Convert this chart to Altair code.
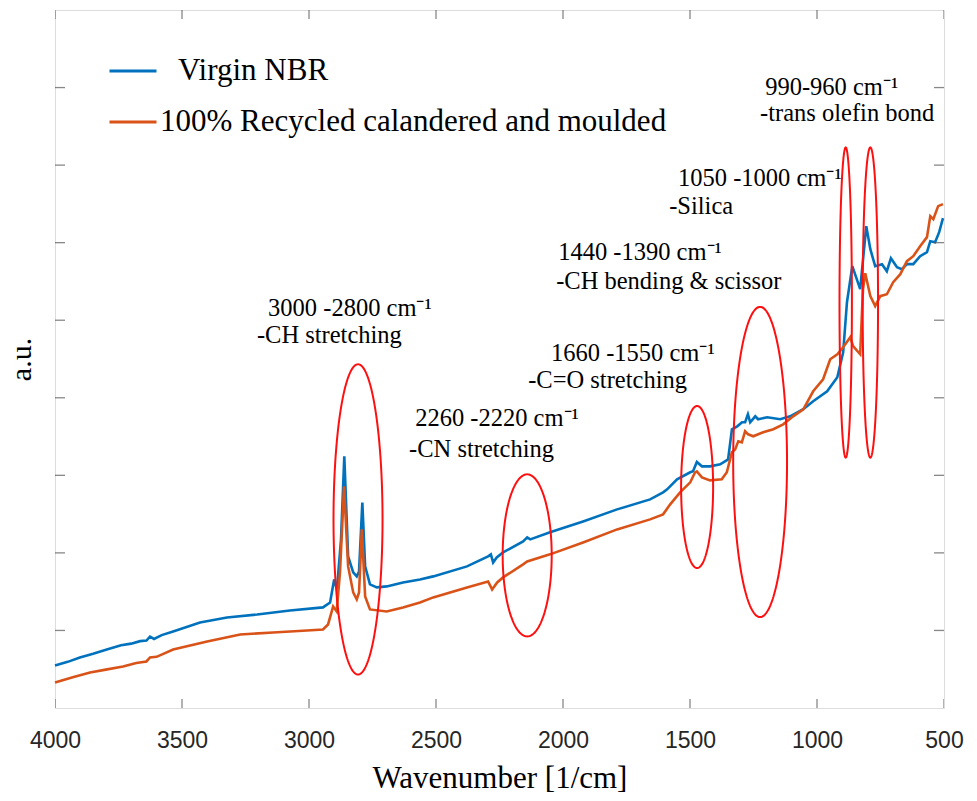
import altair as alt
import pandas as pd
import numpy as np

# ---------------- data ----------------
series_names = ["Virgin NBR", "100% Recycled calandered and moulded"]
series_colors = ["#0072BD", "#D95319"]

virgin_wn = [4000, 3950, 3902, 3850, 3796, 3740, 3700, 3665, 3640, 3626,
             3610, 3580, 3535, 3429, 3323, 3204, 3075,
             2945, 2917, 2901, 2890, 2874, 2861, 2846, 2826, 2812, 2803,
             2790, 2779, 2760, 2733, 2694, 2630, 2563, 2511, 2378, 2295,
             2284, 2275, 2261, 2236, 2157, 2141, 2129, 2051, 1921, 1787,
             1657, 1606, 1590, 1551, 1499, 1488, 1473, 1453, 1421, 1381,
             1350, 1335, 1314, 1295, 1283, 1272, 1263, 1243, 1232, 1196,
             1145, 1106, 1054, 1015, 960, 920, 897, 882, 861, 830,
             806, 790, 771, 744, 725, 709, 685, 666, 646, 621,
             594, 567, 554, 535, 519, 504]
virgin_y = [5.48, 5.95, 6.52, 7.0, 7.55, 8.1, 8.3, 8.62, 8.7, 9.2,
            8.9, 9.4, 9.87, 11.03, 11.68, 12.06, 12.58,
            12.97, 13.61, 16.58, 15.29, 21.7, 32.45, 19.55, 17.48, 16.97, 17.61,
            26.5, 18.26, 15.94, 15.55, 15.68, 16.19, 16.58, 16.97, 18.26, 19.55,
            19.81, 18.77, 19.42, 20.06, 21.48, 22.0, 21.74, 22.65, 24.06, 25.61,
            26.9, 27.81, 28.19, 29.48, 30.39, 30.52, 31.72, 31.16, 31.16, 31.42,
            32.06, 35.94, 36.32, 36.84, 36.84, 37.87, 36.84, 37.61, 37.23, 37.48,
            37.23, 37.61, 38.52, 39.55, 40.84, 42.65, 45.87, 52.32, 56.97, 54.0,
            62.13, 59.16, 56.97, 57.23, 56.32, 58.0, 56.84, 56.58, 57.23, 57.23,
            58.26, 58.77, 60.19, 60.06, 61.35, 63.16]

recycled_wn = [4000, 3930, 3862, 3800, 3732, 3680, 3640, 3626, 3600, 3535,
               3401, 3271, 3141, 3008, 2945,
               2925, 2905, 2891, 2878, 2862, 2846, 2826, 2812, 2803, 2792,
               2779, 2760, 2694, 2630, 2563, 2511, 2378, 2295, 2279, 2259,
               2236, 2157, 2141, 2051, 1921, 1787, 1657, 1606, 1578, 1539,
               1499, 1480, 1473, 1453, 1421, 1375, 1355, 1335, 1322, 1310,
               1296, 1283, 1271, 1251, 1212, 1172, 1133, 1094, 1054, 1015,
               976, 948, 920, 897, 869, 858, 830, 819, 810, 790,
               771, 751, 725, 700, 672, 646, 621, 594, 567, 554,
               542, 523, 504]
recycled_y = [3.29, 3.95, 4.58, 4.95, 5.35, 5.8, 6.0, 6.52, 6.6, 7.55,
              8.58, 9.48, 9.74, 10.0, 10.13,
              10.77, 13.1, 12.45, 17.48, 28.58, 18.26, 14.9, 14.0, 14.9, 23.03,
              14.39, 12.71, 12.45, 12.97, 13.61, 14.26, 15.55, 16.32, 15.29, 16.19,
              16.84, 18.52, 18.9, 19.81, 21.35, 23.03, 24.32, 24.97, 26.26, 27.81,
              29.1, 30.39, 30.52, 29.74, 29.35, 29.48, 30.39, 32.97, 33.35, 34.39,
              34.26, 35.68, 35.29, 35.03, 35.55, 35.94, 36.58, 37.61, 38.52, 40.84,
              42.39, 44.97, 45.61, 46.52, 47.81, 46.65, 45.61, 54.0, 56.06, 53.1,
              51.81, 53.1, 53.35, 54.9, 55.94, 57.61, 58.26, 59.55, 60.71, 63.42,
              63.03, 64.71, 64.97]

x_ticks = [4000, 3500, 3000, 2500, 2000, 1500, 1000, 500]
y_ticks = [10, 20, 30, 40, 50, 60, 70, 80]

# red ellipses: centre (wavenumber, a.u.) and semi-axes
ell_cx = [2807, 2141, 1472, 1224, 887, 790]
ell_cy = [24.32, 19.68, 28.49, 31.72, 52.28, 52.28]
ell_rx = [96.5, 96.5, 63, 106, 24.4, 30.3]
ell_ry = [20.0, 10.45, 10.45, 20.0, 20.0, 20.0]

# annotation texts and anchor (left edge wavenumber, a.u.)
ann_text = ["3000 -2800 cm\u207b\u00b9", "-CH stretching",
            "2260 -2220 cm\u207b\u00b9", "-CN stretching",
            "1660 -1550 cm\u207b\u00b9", "-C=O stretching",
            "1440 -1390 cm\u207b\u00b9", "-CH bending & scissor",
            "1050 -1000 cm\u207b\u00b9", "-Silica",
            "990-960 cm\u207b\u00b9", "-trans olefin bond"]
ann_wn = [3161, 3205, 2582, 2606, 2047, 2137, 2019, 2027, 1547, 1582, 1204, 1224]
ann_y = [51.42, 47.94, 37.23, 33.23, 45.61, 42.13, 58.7, 54.9, 68.19, 64.58, 79.94, 76.58]

# ---------------- tables ----------------
df_lines = pd.concat([
    pd.DataFrame({"wn": virgin_wn, "a": virgin_y, "series": series_names[0],
                  "idx": range(len(virgin_wn))}),
    pd.DataFrame({"wn": recycled_wn, "a": recycled_y, "series": series_names[1],
                  "idx": range(len(recycled_wn))}),
])

t = np.linspace(0, 2 * np.pi, 181)
ell_rows = []
for g, (cx, cy, rx, ry) in enumerate(zip(ell_cx, ell_cy, ell_rx, ell_ry)):
    for k, tt in enumerate(t):
        ell_rows.append({"g": g, "k": k, "wn": cx + rx * np.cos(tt), "a": cy + ry * np.sin(tt)})
df_ell = pd.DataFrame(ell_rows)

df_ann = pd.DataFrame({"wn": ann_wn, "a": ann_y, "text": ann_text})

df_xt = pd.DataFrame({"wn": x_ticks * 2, "a": [0] * len(x_ticks) + [90] * len(x_ticks)})
df_yt = pd.DataFrame({"wn": [4000] * len(y_ticks) + [500] * len(y_ticks), "a": y_ticks * 2})

# ---------------- chart ----------------
xscale = alt.Scale(domain=[500, 4000], reverse=True, nice=False, zero=False)
yscale = alt.Scale(domain=[0, 90], nice=False, zero=False)

lines = alt.Chart(df_lines).mark_line(strokeWidth=2.6).encode(
    x=alt.X("wn:Q", scale=xscale,
            axis=alt.Axis(values=x_ticks, format="d", title="Wavenumber [1/cm]",
                          grid=False, ticks=False, tickSize=0, domain=False,
                          labelFlush=False,
                          labelFont="Liberation Sans", labelFontSize=23,
                          labelColor="#262626", labelPadding=21,
                          titleFont="Liberation Serif", titleFontSize=31,
                          titleFontWeight="normal", titleColor="black",
                          titlePadding=11)),
    y=alt.Y("a:Q", scale=yscale,
            axis=alt.Axis(title="a.u.", labels=False, ticks=False, tickSize=0,
                          domain=False, grid=False,
                          titleFont="Liberation Serif", titleFontSize=30,
                          titleFontWeight="normal", titleColor="black",
                          titlePadding=19)),
    color=alt.Color("series:N",
                    scale=alt.Scale(domain=series_names, range=series_colors),
                    legend=alt.Legend(orient="none", legendX=53, legendY=36,
                                      title=None, symbolType="stroke",
                                      symbolSize=2209, symbolStrokeWidth=3,
                                      labelFont="Liberation Serif", labelFontSize=31,
                                      labelColor="black", labelOffset=2,
                                      rowPadding=11, padding=0, labelLimit=0,
                                      labelExpr="datum.label == 'Virgin NBR' ? '\u200b\u2002\u200aVirgin NBR' : datum.label")),
    order=alt.Order("idx:Q"),
)

ellipses = alt.Chart(df_ell).mark_line(color="#FF1010", strokeWidth=2).encode(
    x=alt.X("wn:Q", scale=xscale),
    y=alt.Y("a:Q", scale=yscale),
    detail="g:N",
    order=alt.Order("k:Q"),
)

ann = alt.Chart(df_ann).mark_text(align="left", baseline="middle",
                                  font="Liberation Serif", fontSize=24.5,
                                  color="black").encode(
    x=alt.X("wn:Q", scale=xscale),
    y=alt.Y("a:Q", scale=yscale),
    text="text:N",
)

xt = alt.Chart(df_xt).mark_tick(orient="vertical", size=18, thickness=1.3,
                                color="#555555", clip=True).encode(
    x=alt.X("wn:Q", scale=xscale), y=alt.Y("a:Q", scale=yscale))
yt = alt.Chart(df_yt).mark_tick(orient="horizontal", size=20, thickness=1.3,
                                color="#555555", clip=True).encode(
    x=alt.X("wn:Q", scale=xscale), y=alt.Y("a:Q", scale=yscale))

chart = alt.layer(lines, ellipses, ann, xt, yt).properties(
    width=889, height=698,
    autosize=alt.AutoSizeParams(type="none"),
    padding={"left": 55, "top": 10, "right": 33, "bottom": 93},
).configure_view(stroke="#555555", strokeWidth=1.5).configure(background="white")

chart.save("out.html", embed_options={"renderer": "svg", "actions": False})
